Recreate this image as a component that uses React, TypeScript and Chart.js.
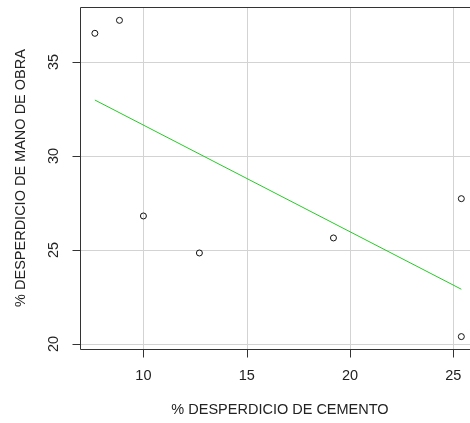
import React, { useEffect, useRef } from "react";
import { Chart, registerables } from "chart.js";

Chart.register(...registerables);

const cementoPct = [7.65, 8.84, 10.0, 12.71, 19.2, 25.39, 25.39];
const manoObraPct = [36.53, 37.22, 26.81, 24.84, 25.64, 27.73, 20.39];
const fitX = [7.65, 25.39];
const fitY = [32.98, 22.91];
const xTicks = [10, 15, 20, 25];
const yTicks = [20, 25, 30, 35];
const xTitle = "% DESPERDICIO DE CEMENTO";
const yTitle = "% DESPERDICIO DE MANO DE OBRA";

const FONT = "14.5px 'Liberation Sans', Arial, sans-serif";

const rAxesPlugin = {
  id: "rAxes",
  beforeDatasetsDraw(chart: any) {
    const { ctx, chartArea } = chart;
    const xs = chart.scales.x;
    const ys = chart.scales.y;
    ctx.save();
    ctx.strokeStyle = "#d3d3d3";
    ctx.lineWidth = 1;
    ctx.beginPath();
    xTicks.forEach((t) => {
      const px = Math.round(xs.getPixelForValue(t)) + 0.5;
      ctx.moveTo(px, chartArea.top);
      ctx.lineTo(px, chartArea.bottom);
    });
    yTicks.forEach((t) => {
      const py = Math.round(ys.getPixelForValue(t)) + 0.5;
      ctx.moveTo(chartArea.left, py);
      ctx.lineTo(chartArea.right, py);
    });
    ctx.stroke();
    ctx.restore();
  },
  afterDatasetsDraw(chart: any) {
    const { ctx, chartArea } = chart;
    const xs = chart.scales.x;
    const ys = chart.scales.y;
    const L = Math.round(chartArea.left) + 0.5;
    const T = Math.round(chartArea.top) + 0.5;
    const R = Math.round(chartArea.right) + 0.5;
    const B = Math.round(chartArea.bottom) + 0.5;
    ctx.save();
    ctx.strokeStyle = "#333333";
    ctx.lineWidth = 1;
    ctx.beginPath();
    ctx.rect(L, T, R - L, B - T);
    ctx.stroke();
    // ticks
    ctx.beginPath();
    xTicks.forEach((t) => {
      const px = Math.round(xs.getPixelForValue(t)) + 0.5;
      ctx.moveTo(px, B);
      ctx.lineTo(px, B + 8);
    });
    yTicks.forEach((t) => {
      const py = Math.round(ys.getPixelForValue(t)) + 0.5;
      ctx.moveTo(L, py);
      ctx.lineTo(L - 8, py);
    });
    ctx.stroke();
    // labels
    ctx.fillStyle = "#222222";
    ctx.font = FONT;
    ctx.textAlign = "center";
    ctx.textBaseline = "middle";
    xTicks.forEach((t) => {
      const px = xs.getPixelForValue(t);
      ctx.fillText(String(t), px, 376);
    });
    yTicks.forEach((t) => {
      const py = ys.getPixelForValue(t);
      ctx.save();
      ctx.translate(54, py);
      ctx.rotate(-Math.PI / 2);
      ctx.fillText(String(t), 0, 0);
      ctx.restore();
    });
    ctx.fillText(xTitle, 280, 410);
    ctx.save();
    ctx.translate(20.5, (chartArea.top + chartArea.bottom) / 2);
    ctx.rotate(-Math.PI / 2);
    ctx.fillText(yTitle, 0, 0);
    ctx.restore();
    ctx.restore();
  },
};

export default function App() {
  const ref = useRef<HTMLCanvasElement | null>(null);
  useEffect(() => {
    if (!ref.current) return;
    const chart = new Chart(ref.current, {
      type: "scatter",
      data: {
        datasets: [
          {
            type: "line",
            data: fitX.map((x, i) => ({ x, y: fitY[i] })),
            borderColor: "#22cc22",
            borderWidth: 1,
            pointRadius: 0,
            fill: false,
            tension: 0,
          },
          {
            type: "scatter",
            data: cementoPct.map((x, i) => ({ x, y: manoObraPct[i] })),
            borderColor: "#111111",
            backgroundColor: "rgba(0,0,0,0)",
            borderWidth: 1,
            pointRadius: 3,
            pointHoverRadius: 3,
          },
        ],
      },
      options: {
        responsive: false,
        animation: false,
        devicePixelRatio: 1,
        layout: { padding: { left: 80, top: 7, right: 3, bottom: 74 } },
        plugins: { legend: { display: false }, tooltip: { enabled: false } },
        scales: {
          x: { type: "linear", min: 6.93, max: 26.1, display: false },
          y: { type: "linear", min: 19.73, max: 37.93, display: false },
        },
      },
      plugins: [rAxesPlugin],
    } as any);
    return () => chart.destroy();
  }, []);
  return (
    <div
      style={{
        position: "fixed",
        left: 0,
        top: 0,
        width: 470,
        height: 423,
        overflow: "hidden",
        background: "#fff",
      }}
    >
      <canvas ref={ref} width={480} height={423} style={{ width: 480, height: 423, display: "block" }} />
    </div>
  );
}
